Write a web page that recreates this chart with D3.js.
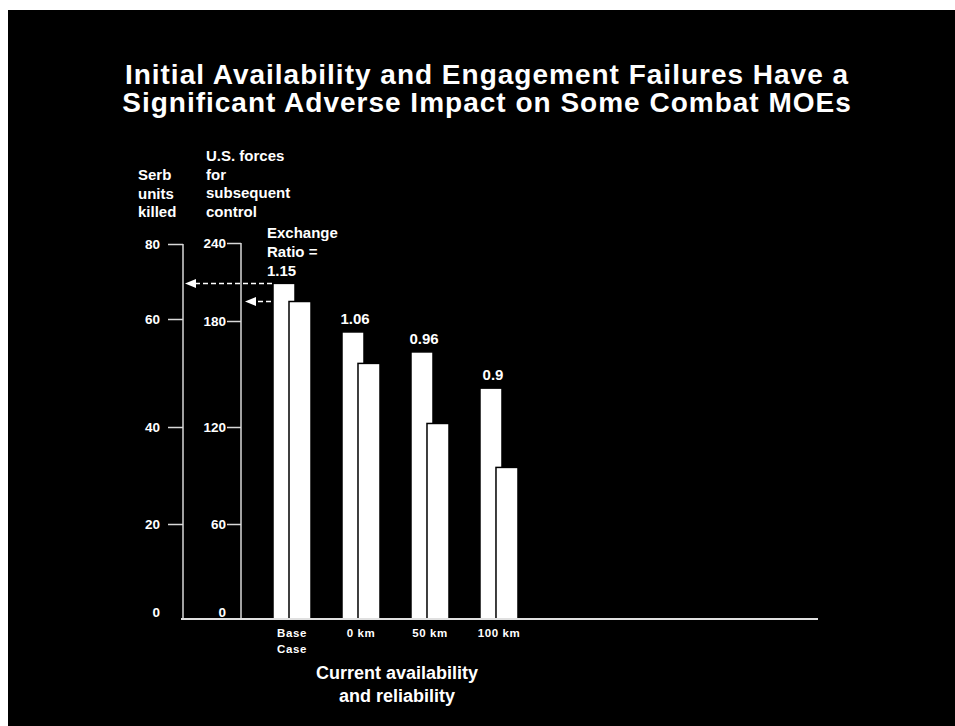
<!DOCTYPE html>
<html>
<head>
<meta charset="utf-8">
<script src="https://cdn.jsdelivr.net/npm/d3@7/dist/d3.min.js"></script>
<style>
  html, body { margin: 0; padding: 0; background: #fff; }
  svg { display: block; }
  text { font-family: "Liberation Sans", Arial, Helvetica, sans-serif; font-weight: bold; fill: #fff; }
</style>
</head>
<body>
<script>
// Cases compared
const categories = ["Base Case", "0 km", "50 km", "100 km"];
// Serb units killed (left axis)
const serbKilled = [69.5, 57.6, 53.9, 47.2];
// U.S. forces needed for subsequent control (right axis)
const usForces = [195, 156, 122, 95];
// Exchange ratio printed above each case
const exchangeRatio = ["1.15", "1.06", "0.96", "0.9"];
// Tick values of both axes
const serbTicks = [0, 20, 40, 60, 80];
const usTicks = [0, 60, 120, 180, 240];

const W = 955, H = 726;
const svg = d3.select("body").append("svg").attr("width", W).attr("height", H);

// slide panel
svg.append("rect").attr("x", 8).attr("y", 10).attr("width", W - 8).attr("height", H - 10).attr("fill", "#000");

// title
const title = svg.append("text").attr("text-anchor", "middle").attr("font-size", 28).attr("letter-spacing", 1);
["Initial Availability and Engagement Failures Have a",
 "Significant Adverse Impact on Some Combat MOEs"].forEach((t, i) => {
  title.append("tspan").attr("x", 487).attr("y", 84 + i * 28).text(t);
});

const baseY = 619;
const axisL = 183, axisR = 241;

// hand-spaced vertical scales (tick spacing of the original axes is uneven)
const yL = d3.scaleLinear().domain(serbTicks).range([baseY, 524, 427, 319, 244]);
const yR = d3.scaleLinear().domain(usTicks).range([baseY, 524, 427, 321, 243]);

const x = d3.scaleBand().domain(categories).range([273, 518]).paddingInner(0.449).paddingOuter(0);
const barW = 22, offset = 16;

const axisColor = "#d8d8d8";

function styleAxis(g) {
  g.select(".domain").remove();
  g.selectAll(".tick line").attr("stroke", axisColor).attr("stroke-width", 1.5);
  g.selectAll(".tick text").attr("font-size", 13.5).attr("fill", "#fff")
    .attr("font-family", "'Liberation Sans', Arial, sans-serif").attr("font-weight", "bold");
  g.selectAll(".tick").filter(d => d === 0).select("line").remove();
  g.selectAll(".tick").filter(d => d === 0).select("text").attr("dy", "-0.2em");
}

// left axis
const gL = svg.append("g").attr("transform", `translate(${axisL},0)`)
  .call(d3.axisLeft(yL).tickValues(serbTicks).tickSize(15).tickPadding(8));
styleAxis(gL);
svg.append("line").attr("x1", axisL).attr("x2", axisL).attr("y1", yL(80)).attr("y2", baseY)
  .attr("stroke", axisColor).attr("stroke-width", 1.5);

// right axis
const gR = svg.append("g").attr("transform", `translate(${axisR},0)`)
  .call(d3.axisLeft(yR).tickValues(usTicks).tickSize(14).tickPadding(1));
styleAxis(gR);
svg.append("line").attr("x1", axisR).attr("x2", axisR).attr("y1", yR(240)).attr("y2", baseY)
  .attr("stroke", axisColor).attr("stroke-width", 1.5);

// axis titles
function multiline(xp, y0, lh, lines, size, anchor) {
  const t = svg.append("text").attr("font-size", size).attr("text-anchor", anchor || "start");
  lines.forEach((s, i) => t.append("tspan").attr("x", xp).attr("y", y0 + i * lh).text(s));
  return t;
}
multiline(138, 180, 18.5, ["Serb", "units", "killed"], 15);
multiline(206, 161, 18.5, ["U.S. forces", "for", "subsequent", "control"], 15);
multiline(267, 238, 19, ["Exchange", "Ratio ="], 15);

// bars
const groups = svg.append("g").selectAll("g").data(categories).join("g");
groups.append("rect")
  .attr("x", d => x(d)).attr("width", barW)
  .attr("y", (d, i) => yL(serbKilled[i])).attr("height", (d, i) => baseY - yL(serbKilled[i]))
  .attr("fill", "#fff").attr("stroke", "#000").attr("stroke-width", 1.5);
groups.append("rect")
  .attr("x", d => x(d) + offset).attr("width", barW)
  .attr("y", (d, i) => yR(usForces[i])).attr("height", (d, i) => baseY - yR(usForces[i]))
  .attr("fill", "#fff").attr("stroke", "#000").attr("stroke-width", 1.5);

// exchange ratio values: first one completes the "Exchange Ratio =" caption,
// the others sit above their left bars
svg.append("g").selectAll("text").data(categories).join("text")
  .attr("x", (d, i) => i === 0 ? 267 : x(d) + barW / 2 + 2)
  .attr("y", (d, i) => i === 0 ? 276 : yL(serbKilled[i]) - 8)
  .attr("text-anchor", (d, i) => i === 0 ? "start" : "middle")
  .attr("font-size", 15)
  .text((d, i) => exchangeRatio[i]);

// dashed reference arrows back to each axis
function arrow(y, xFrom, xTip) {
  svg.append("line").attr("x1", xFrom).attr("x2", xTip + 11).attr("y1", y).attr("y2", y)
    .attr("stroke", "#fff").attr("stroke-width", 1.5).attr("stroke-dasharray", "5,3");
  svg.append("path").attr("d", `M${xTip},${y} L${xTip + 11},${y - 4.5} L${xTip + 11},${y + 4.5} Z`)
    .attr("fill", "#fff");
}
arrow(yL(serbKilled[0]), x(categories[0]) - 1, axisL + 2);
arrow(yR(usForces[0]), x(categories[0]) - 2, axisR + 4);

// baseline
svg.append("line").attr("x1", 181).attr("x2", 818).attr("y1", baseY).attr("y2", baseY)
  .attr("stroke", "#e0e0e0").attr("stroke-width", 2);

// category labels
const catLabels = svg.append("g").selectAll("text").data(categories).join("text")
  .attr("text-anchor", "middle").attr("font-size", 11.5).attr("letter-spacing", 0.6);
catLabels.each(function(d) {
  const parts = d === "Base Case" ? ["Base", "Case"] : [d];
  const t = d3.select(this);
  parts.forEach((p, i) => t.append("tspan").attr("x", x(d) + 19).attr("y", 637 + i * 16).text(p));
});

// x-axis title
multiline(397, 679, 23, ["Current availability", "and reliability"], 18, "middle");
</script>
</body>
</html>
